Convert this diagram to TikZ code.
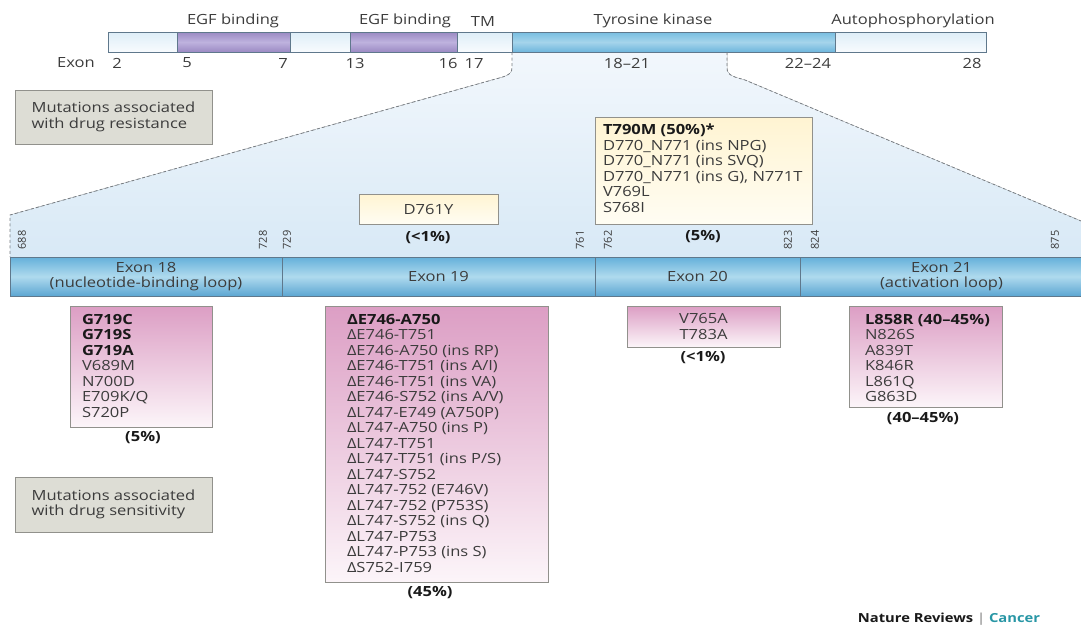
\documentclass[tikz,border=0pt]{standalone}
\usepackage{fontspec}
\setmainfont{Open Sans}[FakeStretch=1.18]
\newfontfamily\numfont{Open Sans}
\definecolor{txt}{RGB}{60,60,60}
\definecolor{dark}{RGB}{25,25,25}
\definecolor{edge}{RGB}{95,120,140}
\definecolor{lightA}{RGB}{222,238,248}
\definecolor{lightB}{RGB}{248,251,254}
\definecolor{purA}{RGB}{155,138,195}
\definecolor{purB}{RGB}{190,178,222}
\definecolor{tkA}{RGB}{120,190,225}
\definecolor{tkM}{RGB}{165,212,235}
\definecolor{tkB}{RGB}{110,182,220}
\definecolor{exA}{RGB}{100,176,218}
\definecolor{exM}{RGB}{175,218,238}
\definecolor{exB}{RGB}{92,166,210}
\definecolor{fanA}{RGB}{242,247,252}
\definecolor{fanB}{RGB}{216,233,246}
\definecolor{greyfill}{RGB}{221,221,213}
\definecolor{greyedge}{RGB}{145,145,140}
\definecolor{yelA}{RGB}{255,244,210}
\definecolor{yelB}{RGB}{255,253,243}
\definecolor{pinkA}{RGB}{220,158,196}
\definecolor{pinkB}{RGB}{252,245,249}
\definecolor{dashc}{RGB}{120,125,130}
\definecolor{teal}{RGB}{40,150,165}
\begin{document}
\begin{tikzpicture}[x=1pt,y=-1pt,
  every node/.style={text=txt, font=\fontsize{14}{15.5}\selectfont, inner sep=0pt, outer sep=0pt},
  tseg/.style={draw=edge, line width=0.7pt, anchor=north west, minimum height=20pt},
  lseg/.style={tseg, top color=lightA, bottom color=lightB},
  pseg/.style={tseg, top color=purA, bottom color=purA, middle color=purB},
  bseg/.style={tseg, top color=tkA, bottom color=tkB, middle color=tkM},
  exseg/.style={draw=edge, line width=0.8pt, anchor=north west, minimum height=39pt,
    top color=exA, bottom color=exB, middle color=exM, align=center},
  greybox/.style={draw=greyedge, line width=0.8pt, fill=greyfill, anchor=north west},
  yelbox/.style={draw=greyedge, line width=0.8pt, top color=yelA, bottom color=yelB, anchor=north west},
  pinkbox/.style={draw=greyedge, line width=0.8pt, top color=pinkA, bottom color=pinkB, anchor=north west},
  listtext/.style={align=left, anchor=north west},
  pct/.style={font=\fontsize{14}{15.5}\selectfont\bfseries, text=dark},
  resnum/.style={rotate=90, font=\numfont\fontsize{11}{12}\selectfont},
  fandash/.style={draw=dashc, line width=0.8pt, dash pattern=on 3pt off 2.5pt}
]
\useasboundingbox (0,0) rectangle (1081,630);

% fan-shaped zoom region
\fill[top color=fanA, bottom color=fanB] (512,52) -- (512,68) .. controls (512,76) and (502,77) .. (492,80) -- (10,215) -- (10,257) -- (1081,257) -- (1081,221) -- (745,80) .. controls (735,77) and (727,76) .. (727,68) -- (727,52) -- cycle;

% top bar
\node[lseg, minimum width=69pt]  (s1) at (108,32) {};
\node[pseg, minimum width=113pt] (p1) at (177,32) {};
\node[lseg, minimum width=60pt]  (s2) at (290,32) {};
\node[pseg, minimum width=107pt] (p2) at (350,32) {};
\node[lseg, minimum width=55pt]  (s3) at (457,32) {};
\node[bseg, minimum width=323pt] (tk) at (512,32) {};
\node[lseg, minimum width=151pt] (s4) at (835,32) {};
\coordinate (fr) at (727,52);

\node (l1) at (233,21) {EGF binding};
\node (l2) at (405,21) {EGF binding};
\node (l3) at (483,21) {TM};
\node (l4) at (653,21) {Tyrosine kinase};
\node (l5) at (913,21) {Autophosphorylation};

\node (x0) at (76,63) {Exon};
\node (x1) at (117,63) {2};
\node (x2) at (187,63) {5};
\node (x3) at (283,63) {7};
\node (x4) at (355,63) {13};
\node (x5) at (448,63) {16};
\node (x6) at (474,63) {17};
\node (x7) at (627,63) {18--21};
\node (x8) at (808,63) {22--24};
\node (x9) at (972,63) {28};

% exon bar
\node[exseg, minimum width=272pt] (e18) at (10,257) {Exon 18\\(nucleotide-binding loop)};
\node[exseg, minimum width=313pt] (e19) at (282,257) {Exon 19};
\node[exseg, minimum width=205pt] (e20) at (595,257) {Exon 20};
\node[exseg, minimum width=283pt] (e21) at (800,257) {Exon 21\\(activation loop)};
\coordinate (er) at (1081,221);

% dashed zoom lines
\draw[fandash] (tk.south west) -- ++(0,16) .. controls +(0,8) and +(10,-3) .. (492,80) -- (10,215) -- (e18.north west);
\draw[fandash] (fr) -- ++(0,16) .. controls +(0,8) and +(-10,-3) .. (745,80) -- (er);

% residue numbers
\node[resnum] (n688) at (22,240) {688};
\node[resnum] (n728) at (263,240) {728};
\node[resnum] (n729) at (287,240) {729};
\node[resnum] (n761) at (580,240) {761};
\node[resnum] (n762) at (608,240) {762};
\node[resnum] (n823) at (788,240) {823};
\node[resnum] (n824) at (815,240) {824};
\node[resnum] (n875) at (1055,240) {875};

% legend boxes
\node[greybox, minimum width=197pt, minimum height=54pt] (res) at (15,90) {};
\node[align=left] (rest) at (res.center) {Mutations associated\\with drug resistance};
\node[greybox, minimum width=197pt, minimum height=55pt] (sen) at (15,477) {};
\node[align=left] (sent) at (sen.center) {Mutations associated\\with drug sensitivity};

% resistance boxes
\node[yelbox, minimum width=139pt, minimum height=30pt] (d761) at (359,194) {};
\node (d761t) at (d761.center) {D761Y};
\node[pct] (d761p) at (428,238) {(<1\%)};

\node[yelbox, minimum width=217pt, minimum height=107pt] (t790) at (595,117) {};
\node[listtext] (t790t) at ([xshift=8pt,yshift=-7pt]t790.north west)
  {{\bfseries\color{dark}T790M (50\%)*}\\D770\_N771 (ins NPG)\\D770\_N771 (ins SVQ)\\D770\_N771 (ins G), N771T\\V769L\\S768I};
\node[pct] (t790p) at (703,237) {(5\%)};

% sensitivity boxes
\node[pinkbox, minimum width=142pt, minimum height=121pt] (g719) at (70,306) {};
\node[listtext] (g719t) at ([xshift=12pt,yshift=-8pt]g719.north west)
  {{\bfseries\color{dark}G719C}\\{\bfseries\color{dark}G719S}\\{\bfseries\color{dark}G719A}\\V689M\\N700D\\E709K/Q\\S720P};
\node[pct] (g719p) at (143,438) {(5\%)};

\node[pinkbox, minimum width=223pt, minimum height=276pt] (d746) at (325,306) {};
\node[listtext] (d746t) at ([xshift=22pt,yshift=-8pt]d746.north west)
  {{\bfseries\color{dark}ΔE746-A750}\\ΔE746-T751\\ΔE746-A750 (ins RP)\\ΔE746-T751 (ins A/I)\\ΔE746-T751 (ins VA)\\ΔE746-S752 (ins A/V)\\ΔL747-E749 (A750P)\\ΔL747-A750 (ins P)\\ΔL747-T751\\ΔL747-T751 (ins P/S)\\ΔL747-S752\\ΔL747-752 (E746V)\\ΔL747-752 (P753S)\\ΔL747-S752 (ins Q)\\ΔL747-P753\\ΔL747-P753 (ins S)\\ΔS752-I759};
\node[pct] (d746p) at (430,593) {(45\%)};

\node[pinkbox, minimum width=153pt, minimum height=41pt] (v765) at (627,306) {};
\node[align=center] (v765t) at (v765.center) {V765A\\T783A};
\node[pct] (v765p) at (703,358) {(<1\%)};

\node[pinkbox, minimum width=153pt, minimum height=101pt] (l858) at (849,306) {};
\node[listtext] (l858t) at ([xshift=16pt,yshift=-8pt]l858.north west)
  {{\bfseries\color{dark}L858R (40--45\%)}\\N826S\\A839T\\K846R\\L861Q\\G863D};
\node[pct] (l858p) at (923,419) {(40--45\%)};

% credit
\node[font=\fontsize{12.5}{14}\selectfont\bfseries, text=dark] (credit) at (949,619) {Nature Reviews {\color{gray!70}|} {\color{teal}Cancer}};
\end{tikzpicture}
\end{document}
